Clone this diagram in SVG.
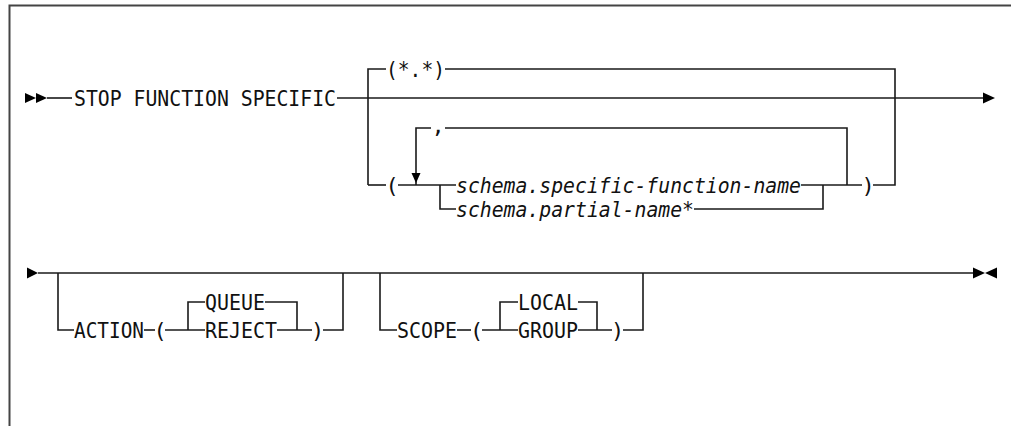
<svg xmlns="http://www.w3.org/2000/svg" width="1011" height="426" viewBox="0 0 1011 426">
<style>
  .t{font-family:"DejaVu Sans Mono","Liberation Mono",monospace;font-size:22px;fill:#111}
  .i{font-style:italic}
  .c{text-anchor:middle}
  .ln{fill:none;stroke:#1a1a1a;stroke-width:1.6}
  .ar{fill:#000}
  .bd{fill:none;stroke:#444;stroke-width:2}
</style>
<rect width="1011" height="426" fill="#fff"/>
<path class="bd" d="M9.5 426 V5.5 H1011"/>

<g id="connectors">
  <!-- row 1 -->
  <polygon class="ar" points="25,93 36,98 25,103"/>
  <polygon class="ar" points="36,93 47,98 36,103"/>
  <path class="ln" d="M47 98 H72"/>
  <path class="ln" d="M337 98 H984"/>
  <polygon class="ar" points="983,92.5 995,98 983,103.5"/>
  <path class="ln" d="M368 185 V69 H386"/>
  <path class="ln" d="M445 69 H895 V185 H873"/>
  <path class="ln" d="M368 185 H386"/>
  <path class="ln" d="M398 185 H456"/>
  <path class="ln" d="M416 185 V128 H431"/>
  <path class="ln" d="M445 128 H847 V185"/>
  <polygon class="ar" points="411.5,173 420.5,173 416,183"/>
  <path class="ln" d="M440 185 V209 H456"/>
  <path class="ln" d="M801 185 H862"/>
  <path class="ln" d="M694 209 H823 V185"/>
  <!-- row 2 -->
  <polygon class="ar" points="27,267.5 38,273 27,278.5"/>
  <path class="ln" d="M38 273 H973"/>
  <polygon class="ar" points="973,267.5 985,273 973,278.5"/>
  <polygon class="ar" points="997,267.5 985,273 997,278.5"/>
  <path class="ln" d="M58 273 V330 H74"/>
  <path class="ln" d="M144 330 H155"/>
  <path class="ln" d="M165 330 H205"/>
  <path class="ln" d="M188 330 V302 H205"/>
  <path class="ln" d="M265 302 H297 V330"/>
  <path class="ln" d="M277 330 H312"/>
  <path class="ln" d="M323 330 H343 V273"/>
  <path class="ln" d="M380 273 V330 H397"/>
  <path class="ln" d="M457 330 H471"/>
  <path class="ln" d="M482 330 H518"/>
  <path class="ln" d="M500 330 V302 H518"/>
  <path class="ln" d="M578 302 H597 V330"/>
  <path class="ln" d="M578 330 H612"/>
  <path class="ln" d="M623 330 H643 V273"/>
</g>

<g id="stop-function-specific"><text class="t" x="74" y="106" textLength="262" lengthAdjust="spacingAndGlyphs">STOP FUNCTION SPECIFIC</text></g>
<g id="star-dot-star"><text class="t" x="386" y="77" textLength="59" lengthAdjust="spacingAndGlyphs">(*.*)</text></g>
<g id="comma"><text class="t c" x="438" y="133">,</text></g>
<g id="open-paren-1"><text class="t c" x="392" y="193">(</text></g>
<g id="specific-function-name"><text class="t i" x="456" y="193" textLength="345" lengthAdjust="spacingAndGlyphs">schema.specific-function-name</text></g>
<g id="partial-name"><text class="t i" x="456" y="217" textLength="238" lengthAdjust="spacingAndGlyphs">schema.partial-name*</text></g>
<g id="close-paren-1"><text class="t c" x="868" y="193">)</text></g>

<g id="action"><text class="t" x="74" y="338" textLength="70" lengthAdjust="spacingAndGlyphs">ACTION</text></g>
<g id="open-paren-action"><text class="t c" x="160" y="338">(</text></g>
<g id="queue"><text class="t" x="205" y="310" textLength="60" lengthAdjust="spacingAndGlyphs">QUEUE</text></g>
<g id="reject"><text class="t" x="205" y="338" textLength="72" lengthAdjust="spacingAndGlyphs">REJECT</text></g>
<g id="close-paren-action"><text class="t c" x="317.5" y="338">)</text></g>

<g id="scope"><text class="t" x="397" y="338" textLength="60" lengthAdjust="spacingAndGlyphs">SCOPE</text></g>
<g id="open-paren-scope"><text class="t c" x="476.5" y="338">(</text></g>
<g id="local"><text class="t" x="518" y="310" textLength="60" lengthAdjust="spacingAndGlyphs">LOCAL</text></g>
<g id="group"><text class="t" x="518" y="338" textLength="60" lengthAdjust="spacingAndGlyphs">GROUP</text></g>
<g id="close-paren-scope"><text class="t c" x="617.5" y="338">)</text></g>
</svg>
